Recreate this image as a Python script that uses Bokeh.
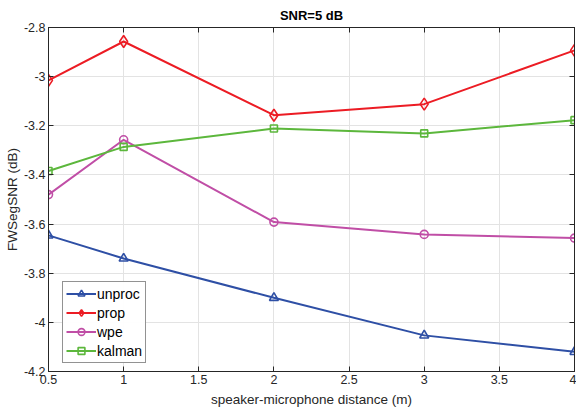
from bokeh.plotting import figure
from bokeh.models import LinearAxis, FixedTicker, Range1d, Legend, LegendItem, CustomJSTickFormatter
from bokeh.embed import file_html
from bokeh.resources import INLINE

distance = [0.5, 1, 2, 3, 4]
unproc = [-3.646, -3.74, -3.90, -4.053, -4.12]
prop = [-3.015, -2.857, -3.157, -3.112, -2.893]
wpe = [-3.48, -3.257, -3.592, -3.642, -3.657]
kalman = [-3.384, -3.286, -3.211, -3.231, -3.177]

x_ticks = [0.5, 1, 1.5, 2, 2.5, 3, 3.5, 4]
x_labels = ["0.5", "1", "1.5", "2", "2.5", "3", "3.5", "4"]
y_ticks = [-4.2, -4.0, -3.8, -3.6, -3.4, -3.2, -3.0, -2.8]
y_labels = ["-4.2", "-4", "-3.8", "-3.6", "-3.4", "-3.2", "-3", "-2.8"]

FONT = "Liberation Sans"
TXT = "#262626"

p = figure(width=576, height=416, output_backend="svg", toolbar_location=None,
           x_range=Range1d(0.5, 4), y_range=Range1d(-4.2, -2.8),
           min_border_left=48, min_border_right=2, min_border_top=27, min_border_bottom=45)
p.title.text = "SNR=5 dB"
p.title.align = "center"
p.title.text_font = FONT
p.title.text_font_size = "13px"
p.title.text_font_style = "bold"
p.title.text_color = "#000000"
p.title.offset = 0

p.outline_line_color = "#262626"
p.outline_line_width = 1

for ax, ticks, labels in ((p.xaxis[0], x_ticks, x_labels), (p.yaxis[0], y_ticks, y_labels)):
    ax.ticker = FixedTicker(ticks=ticks)
    ax.major_label_overrides = {t: l for t, l in zip(ticks, labels)}
    ax.major_label_text_font = FONT
    ax.major_label_text_font_size = "12.5px"
    ax.major_label_text_color = TXT
    ax.axis_label_text_font = FONT
    ax.axis_label_text_font_size = "13.5px"
    ax.axis_label_text_font_style = "normal"
    ax.axis_label_text_color = TXT
    ax.major_tick_in = 5
    ax.major_tick_out = 0
    ax.minor_tick_line_color = None
    ax.axis_line_color = "#262626"
    ax.major_tick_line_color = "#262626"

p.xaxis.axis_label = "speaker-microphone distance (m)"
p.yaxis.axis_label = "FWSegSNR (dB)"
p.xaxis.major_label_standoff = 3
p.yaxis.major_label_standoff = 3
p.xaxis.axis_label_standoff = 5
p.yaxis.axis_label_standoff = 1

blank = CustomJSTickFormatter(code="return '';")
top = LinearAxis(ticker=FixedTicker(ticks=x_ticks), formatter=blank,
                 major_tick_in=5, major_tick_out=0, minor_tick_line_color=None,
                 axis_line_color="#262626", major_tick_line_color="#262626",
                 major_label_standoff=0)
right = LinearAxis(ticker=FixedTicker(ticks=y_ticks), formatter=blank,
                   major_tick_in=5, major_tick_out=0, minor_tick_line_color=None,
                   axis_line_color="#262626", major_tick_line_color="#262626",
                   major_label_standoff=0)
p.add_layout(top, "above")
p.add_layout(right, "right")

p.xgrid.ticker = FixedTicker(ticks=x_ticks)
p.ygrid.ticker = FixedTicker(ticks=y_ticks)
p.grid.grid_line_color = "#e3e3e3"
p.grid.grid_line_width = 1

series = [
    ("unproc", unproc, "#2e4fa5", "triangle", 9),
    ("prop", prop, "#ec1c24", "diamond", 12),
    ("wpe", wpe, "#c04ea6", "circle", 8),
    ("kalman", kalman, "#5cb73c", "square", 7),
]
items = []
for name, ys, color, marker, size in series:
    ln = p.line(distance, ys, line_color=color, line_width=2)
    mk = p.scatter(distance, ys, marker=marker, size=size, line_color=color,
                   fill_color=None, line_width=1.6)
    items.append(LegendItem(label=name, renderers=[ln, mk]))

legend = Legend(items=items, location=(14, 8))
legend.label_text_font = FONT
legend.label_text_font_size = "14px"
legend.label_text_color = "#000000"
legend.border_line_color = "#262626"
legend.border_line_width = 1
legend.background_fill_color = "white"
legend.glyph_width = 30
legend.glyph_height = 17
legend.label_height = 17
legend.spacing = 2
legend.padding = 3
legend.margin = 0
legend.label_standoff = 1
p.add_layout(legend, "center")

open("out.html", "w").write(file_html(p, INLINE))
